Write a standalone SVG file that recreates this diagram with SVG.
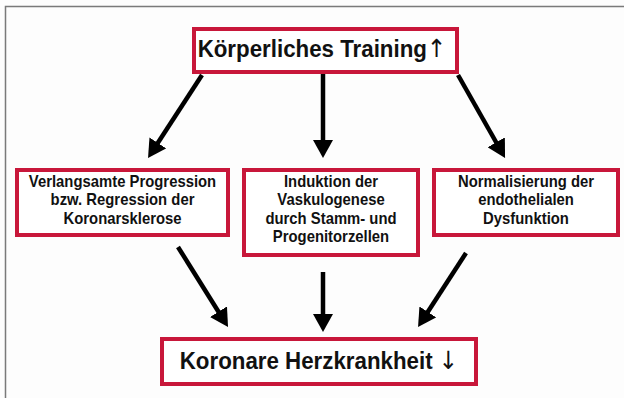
<svg xmlns="http://www.w3.org/2000/svg" width="624" height="398" viewBox="0 0 624 398">
<style>
.box{fill:#fff;stroke:#c8173a;stroke-width:4}
.t{font-family:"Liberation Sans",Arial,sans-serif;font-weight:bold;fill:#111;text-anchor:middle}
.big{font-size:24px}
.small{font-size:15.8px}
.arr{font-family:"DejaVu Sans",sans-serif;font-weight:normal;font-size:25px;fill:#111}
.conn line{stroke:#000;stroke-width:4.5;marker-end:url(#ah)}
</style>
<defs>
<marker id="ah" viewBox="0 0 18 20" refX="10" refY="10" markerWidth="18" markerHeight="20" markerUnits="userSpaceOnUse" orient="auto">
<path d="M0,0 L18,10 L0,20 z" fill="#000"/>
</marker>
</defs>
<rect x="0" y="0" width="624" height="398" fill="#fdfdfd"/>
<path d="M5.5,398 V6.5 H624" fill="none" stroke="#7a7a7a" stroke-width="1.5"/>
<g id="top">
<rect class="box" x="194" y="29" width="263" height="43"/>
<g transform="translate(322,0) scale(0.93,1)">
<text class="t big" x="0" y="57">Körperliches Training<tspan class="arr">↑</tspan></text>
</g>
</g>
<g id="left">
<rect class="box" x="17" y="170" width="211" height="65"/>
<g transform="translate(122.5,0) scale(0.94,1)">
<text class="t small" x="0" y="187">Verlangsamte Progression</text>
<text class="t small" x="0" y="205.5">bzw. Regression der</text>
<text class="t small" x="0" y="224">Koronarsklerose</text>
</g>
</g>
<g id="middle">
<rect class="box" x="244" y="170" width="174" height="85"/>
<g transform="translate(331,0) scale(0.94,1)">
<text class="t small" x="0" y="187">Induktion der</text>
<text class="t small" x="0" y="205.5">Vaskulogenese</text>
<text class="t small" x="0" y="224">durch Stamm- und</text>
<text class="t small" x="0" y="242.5">Progenitorzellen</text>
</g>
</g>
<g id="right">
<rect class="box" x="434" y="170" width="184" height="65"/>
<g transform="translate(526,0) scale(0.94,1)">
<text class="t small" x="0" y="187">Normalisierung der</text>
<text class="t small" x="0" y="205.5">endothelialen</text>
<text class="t small" x="0" y="224">Dysfunktion</text>
</g>
</g>
<g id="bottom">
<rect class="box" x="162" y="339" width="314" height="45"/>
<g transform="translate(319,0) scale(0.93,1)">
<text class="t big" x="0" y="369">Koronare Herzkrankheit <tspan class="arr">↓</tspan></text>
</g>
</g>
<g id="connectors" class="conn">
<line x1="202" y1="75" x2="152.4" y2="151.3"/>
<line x1="323" y1="74" x2="323" y2="150"/>
<line x1="458" y1="75" x2="501.1" y2="151"/>
<line x1="178" y1="247" x2="223.8" y2="320.2"/>
<line x1="323" y1="272" x2="323" y2="324"/>
<line x1="466" y1="253" x2="422.4" y2="320.3"/>
</g>
</svg>
